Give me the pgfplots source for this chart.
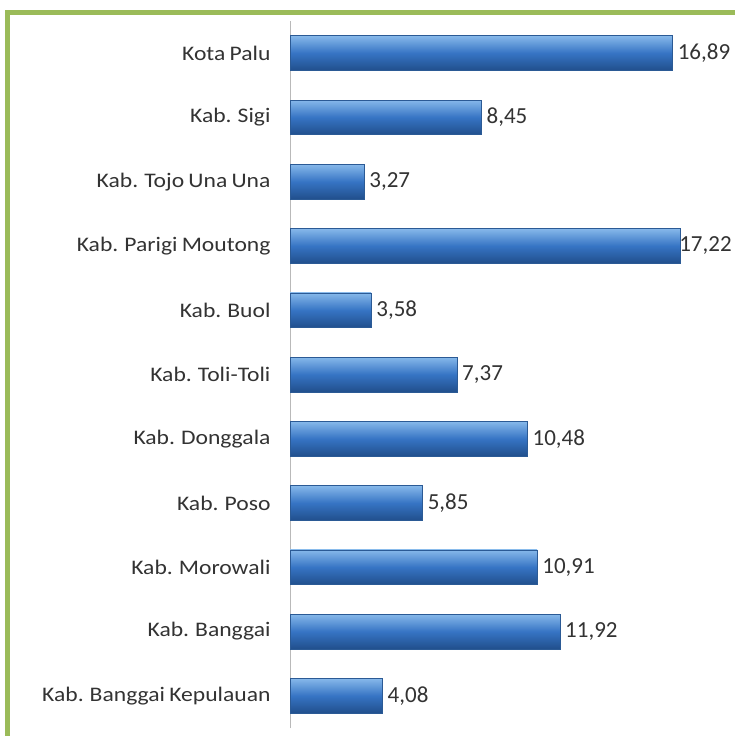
\documentclass[border=0pt]{standalone}
\usepackage{pgfplots}
\pgfplotsset{compat=1.18}
\usepackage{fontspec}
\setmainfont{Carlito}[FakeStretch=1.14, WordSpace={0.8,0.8,0.8}]
\newfontfamily\valfont{Carlito}
\definecolor{frameg}{HTML}{9BBB59}
\definecolor{txt}{HTML}{333333}
\definecolor{btop}{HTML}{86B8EA}
\definecolor{bmid}{HTML}{3674C4}
\definecolor{bbot}{HTML}{214F8C}
\definecolor{bedge}{HTML}{2B5A95}
\pgfplotsset{glassbar/.style={draw=bedge, line width=0.6bp, top color=btop, bottom color=bbot, middle color=bmid}}
\begin{document}
\begin{tikzpicture}
\path[use as bounding box] (0,0) rectangle (735bp,736bp);
\fill[white] (0,0) rectangle (735bp,736bp);
\draw[frameg, line width=5bp] (7.5bp,0) -- (7.5bp,723.5bp) -- (740bp,723.5bp);
\begin{axis}[
  at={(290bp,8bp)}, anchor=south west,
  scale only axis, width=445bp, height=707bp,
  xmin=0, xmax=19.65, ymin=-0.5, ymax=10.5,
  axis x line=none,
  axis y line*=left,
  y axis line style={draw=gray!55, line width=0.8bp},
  major tick length=0pt,
  ytick={0,...,10},
  yticklabels={Kab. Banggai Kepulauan, Kab. Banggai, Kab. Morowali, Kab. Poso, Kab. Donggala, Kab. Toli-Toli, Kab. Buol, Kab. Parigi Moutong, Kab. Tojo Una Una, Kab. Sigi, Kota Palu},
  yticklabel style={font=\fontsize{20.7bp}{24bp}\selectfont, text=txt, anchor=east, xshift=-16bp},
  xbar, bar width=0.54, bar shift=0pt,
  clip=false,
  nodes near coords={\pgfmathprintnumber[fixed, fixed zerofill, precision=2, use comma, assume math mode=true]{\pgfplotspointmeta}},
  nodes near coords style={font=\valfont\fontsize{23bp}{27bp}\selectfont, text=txt, anchor=west, inner xsep=3bp, xshift=2bp},
  point meta=x,
]
\addplot[glassbar] coordinates {(4.08,0)};
\addplot[glassbar] coordinates {(11.92,1)};
\addplot[glassbar] coordinates {(10.91,2)};
\addplot[glassbar] coordinates {(5.85,3)};
\addplot[glassbar] coordinates {(10.48,4)};
\addplot[glassbar] coordinates {(7.37,5)};
\addplot[glassbar] coordinates {(3.58,6)};
\addplot[glassbar, nodes near coords style={xshift=-3bp, inner xsep=0pt}] coordinates {(17.22,7)};
\addplot[glassbar] coordinates {(3.27,8)};
\addplot[glassbar] coordinates {(8.45,9)};
\addplot[glassbar] coordinates {(16.89,10)};
\end{axis}
\end{tikzpicture}
\end{document}
